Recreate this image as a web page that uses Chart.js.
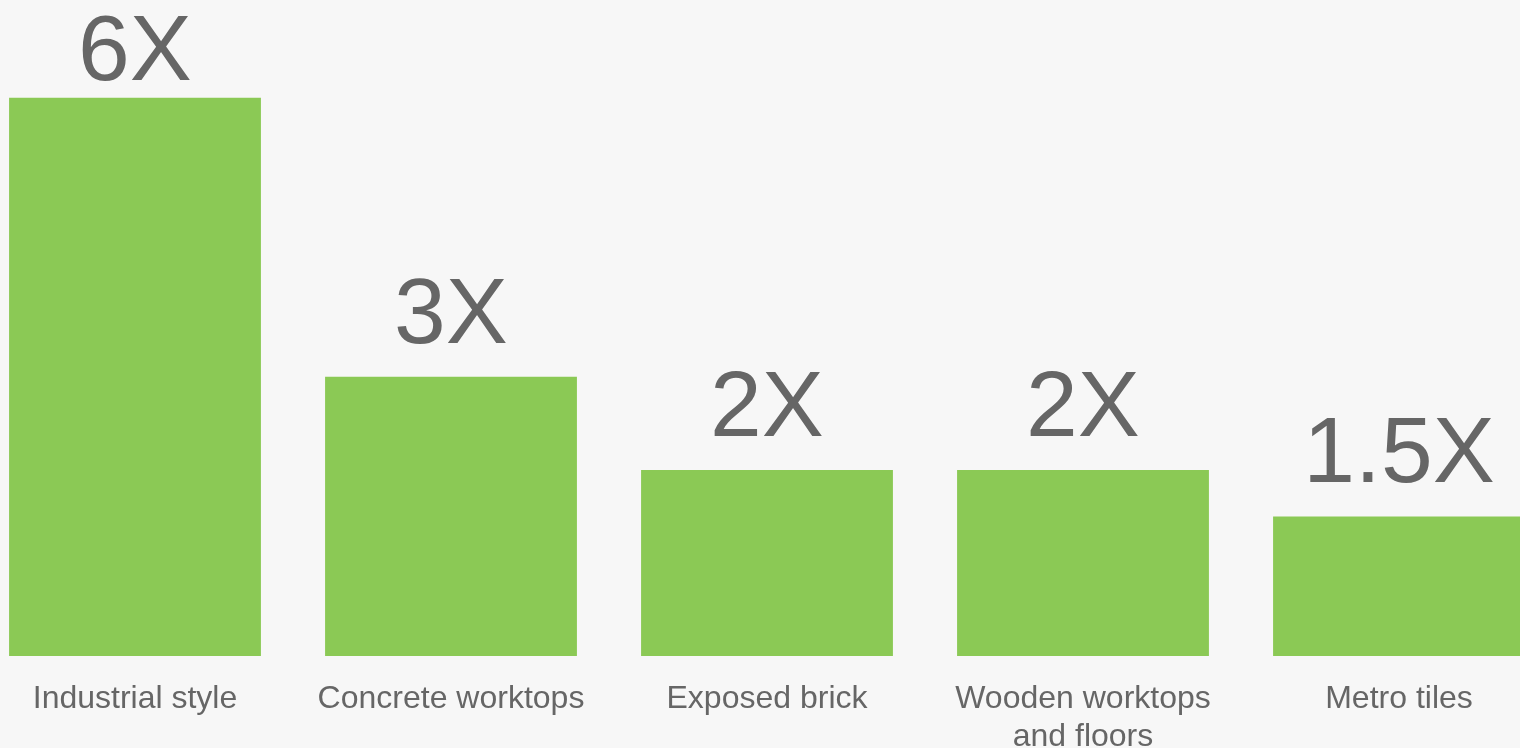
<!DOCTYPE html>
<html>
<head>
<meta charset="utf-8">
<script src="https://cdn.jsdelivr.net/npm/chart.js@4.4.1/dist/chart.umd.min.js"></script>
<style>
  html, body { margin: 0; padding: 0; background: #f7f7f7; overflow: hidden; }
  #wrap { position: absolute; left: -23px; top: 0; width: 1580px; height: 748px; }
</style>
</head>
<body>
<div id="wrap"><canvas id="chart"></canvas></div>
<script>
// ====== data ======
const categories = [
  'Industrial style',
  'Concrete worktops',
  'Exposed brick',
  ['Wooden worktops', 'and floors'],
  'Metro tiles'
];
const multipliers = [6, 3, 2, 2, 1.5];
const valueLabels = ['6X', '3X', '2X', '2X', '1.5X'];

const GREEN = '#8bc955';
const GREY = '#666666';
const FONT = '"Liberation Sans", Arial, sans-serif';

// labels above bars
const barLabels = {
  id: 'barLabels',
  afterDatasetsDraw(chart) {
    const c = chart.ctx;
    const meta = chart.getDatasetMeta(0);
    c.save();
    c.font = '93px ' + FONT;
    c.fillStyle = GREY;
    c.textAlign = 'center';
    c.textBaseline = 'alphabetic';
    meta.data.forEach((bar, i) => {
      const y = Math.max(bar.y - 34, 80); // keep tallest label inside canvas
      c.fillText(valueLabels[i], bar.x, y);
    });
    c.restore();
  }
};

new Chart(document.getElementById('chart').getContext('2d'), {
  type: 'bar',
  data: {
    labels: categories,
    datasets: [{
      data: multipliers,
      backgroundColor: GREEN,
      borderWidth: 0,
      barPercentage: 0.797,
      categoryPercentage: 1
    }]
  },
  options: {
    responsive: true,
    maintainAspectRatio: false,
    animation: false,
    layout: { padding: 0 },
    plugins: { legend: { display: false }, tooltip: { enabled: false } },
    scales: {
      x: {
        grid: { display: false, drawTicks: false },
        border: { display: false },
        ticks: {
          color: GREY,
          padding: 25,
          maxRotation: 0,
          autoSkip: false,
          font: { family: FONT, size: 32, lineHeight: 1.16 }
        },
        afterFit(scale) { scale.height = 92; }
      },
      y: {
        display: false,
        min: 0,
        max: 7.05
      }
    }
  },
  plugins: [barLabels]
});
</script>
</body>
</html>
